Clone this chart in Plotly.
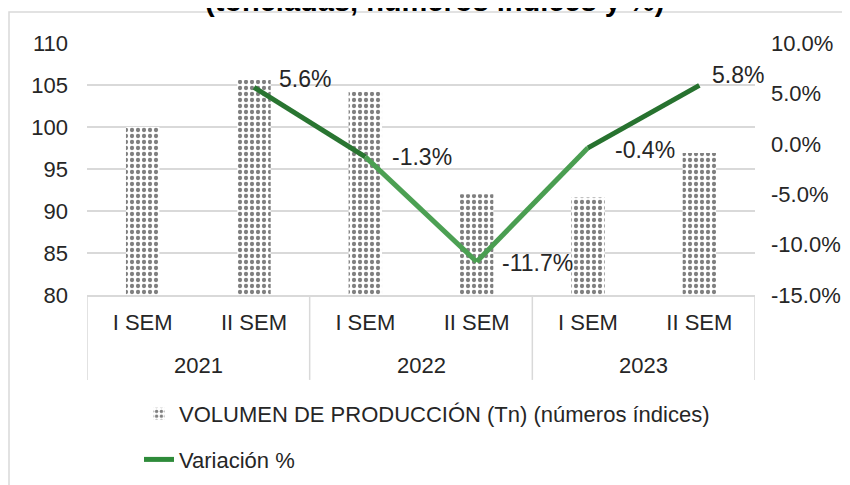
import plotly.graph_objects as go

years = ["2021", "2021", "2022", "2022", "2023", "2023"]
semesters = ["I SEM", "II SEM", "I SEM", "II SEM", "I SEM", "II SEM"]
volumen = [100.0, 105.6, 104.2, 92.0, 91.6, 96.9]
variacion = [None, 5.6, -1.3, -11.7, -0.4, 5.8]
var_labels = ["", "5.6%", "-1.3%", "-11.7%", "-0.4%", "5.8%"]
y2_ticks = [-15, -10, -5, 0, 5, 10]
y_ticks = [80, 85, 90, 95, 100, 105, 110]

# label offsets in pixels (style only)
lbl_dx = [0, 23, 25, 23, 25, 11]
lbl_dy = [0, 8, 0, -1, -2, 10]

FONT = "Liberation Sans, Arial, sans-serif"
TXT = "#262626"
GRID = "#d9d9d9"
xs = list(range(len(semesters)))

# page is rendered with an 8px body margin; layout numbers are in figure pixels
ML, MT, PW, PH = 79, 35, 668, 252
W, H = 850, 485

fig = go.Figure()

fig.add_trace(go.Bar(
    x=xs, y=volumen,
    name="VOLUMEN DE PRODUCCIÓN (Tn) (números índices)",
    width=0.3, legendgroup="a",
    marker=dict(color="white", line=dict(width=0),
                pattern=dict(shape=".", fgcolor="black", bgcolor="white", size=6, solidity=0.4)),
    yaxis="y",
))

def seg_color(v):
    t = max(0.0, min(1.0, (v - (-12)) / (6 - (-12))))
    light = (98, 188, 104)
    dark = (26, 98, 34)
    c = [round(light[i] + (dark[i] - light[i]) * t) for i in range(3)]
    return "rgb(%d,%d,%d)" % tuple(c)

pts = [(i, v) for i, v in enumerate(variacion) if v is not None]
for k in range(len(pts) - 1):
    (i0, v0), (i1, v1) = pts[k], pts[k + 1]
    fig.add_trace(go.Scatter(
        x=[xs[i0], xs[i1]], y=[v0, v1],
        mode="lines", line=dict(color=seg_color((v0 + v1) / 2), width=5),
        showlegend=False, hoverinfo="skip", yaxis="y2",
    ))

fig.add_trace(go.Scatter(
    x=[None], y=[None], name="Variación %", mode="lines", legendgroup="b",
    line=dict(color="#2e8b3a", width=5), yaxis="y2",
))

for i, v in enumerate(variacion):
    if v is None:
        continue
    fig.add_annotation(text=var_labels[i], x=xs[i], y=v, xref="x", yref="y2",
                       xanchor="left", yanchor="middle", xshift=lbl_dx[i], yshift=lbl_dy[i],
                       showarrow=False, font=dict(size=23, color=TXT, family=FONT))

# year labels (second level of category axis)
uniq_years = list(dict.fromkeys(years))
for yv in uniq_years:
    idx = [i for i, y in enumerate(years) if y == yv]
    fig.add_annotation(text=yv, x=sum(idx) / len(idx), y=-0.278, xref="x", yref="paper",
                       xanchor="center", yanchor="middle", showarrow=False,
                       font=dict(size=22, color=TXT, family=FONT))
# group dividers
bounds = [-0.5] + [i + 0.5 for i in range(len(years) - 1) if years[i] != years[i + 1]] + [len(years) - 0.5]
for b in bounds:
    fig.add_shape(type="line", xref="x", yref="paper", x0=b, x1=b, y0=0, y1=-0.337,
                  line=dict(color=GRID, width=1.5))

fig.add_annotation(text="<b>(toneladas, números índices y %)</b>", xref="paper", yref="paper",
                   x=(426 - ML) / PW, y=1 + (MT - (-7)) / PH, xanchor="center", yanchor="middle",
                   showarrow=False, font=dict(size=29, color="black", family=FONT))

fig.add_shape(type="rect", xref="paper", yref="paper", x0=(1 - ML) / PW, x1=1.4, y0=-1.2,
              y1=1 + (MT - 4) / PH,
              line=dict(color=GRID, width=1.5), fillcolor="rgba(0,0,0,0)", layer="below")

fig.update_layout(
    width=W, height=H,
    margin=dict(l=ML, r=W - ML - PW, t=MT, b=H - MT - PH, autoexpand=False),
    paper_bgcolor="white", plot_bgcolor="white",
    font=dict(family=FONT, size=22, color=TXT),
    xaxis=dict(range=[-0.5, 5.5], tickvals=xs, ticktext=semesters, showgrid=False,
               showline=True, linecolor=GRID, linewidth=1.5, zeroline=False,
               ticks="", ticklabelstandoff=7, automargin=False,
               tickfont=dict(size=22, color=TXT)),
    yaxis=dict(range=[80, 110], tickvals=y_ticks, showgrid=True, gridcolor=GRID, gridwidth=1.5,
               zeroline=False, tickfont=dict(size=22, color=TXT), ticks="",
               ticklabelstandoff=18, automargin=False),
    yaxis2=dict(range=[-15, 10], tickvals=y2_ticks, ticktext=["%.1f%%" % v for v in y2_ticks],
                overlaying="y", side="right", showgrid=False, zeroline=False,
                tickfont=dict(size=22, color=TXT), ticks="", ticklabelstandoff=15,
                automargin=False),
    legend=dict(orientation="v", xref="container", yref="container",
                x=131 / W, xanchor="left", y=1 - 385 / H, yanchor="top",
                font=dict(size=22, color=TXT), tracegroupgap=14, traceorder="grouped",
                bgcolor="rgba(0,0,0,0)"),
    showlegend=True,
)

fig.write_html("out.html")
